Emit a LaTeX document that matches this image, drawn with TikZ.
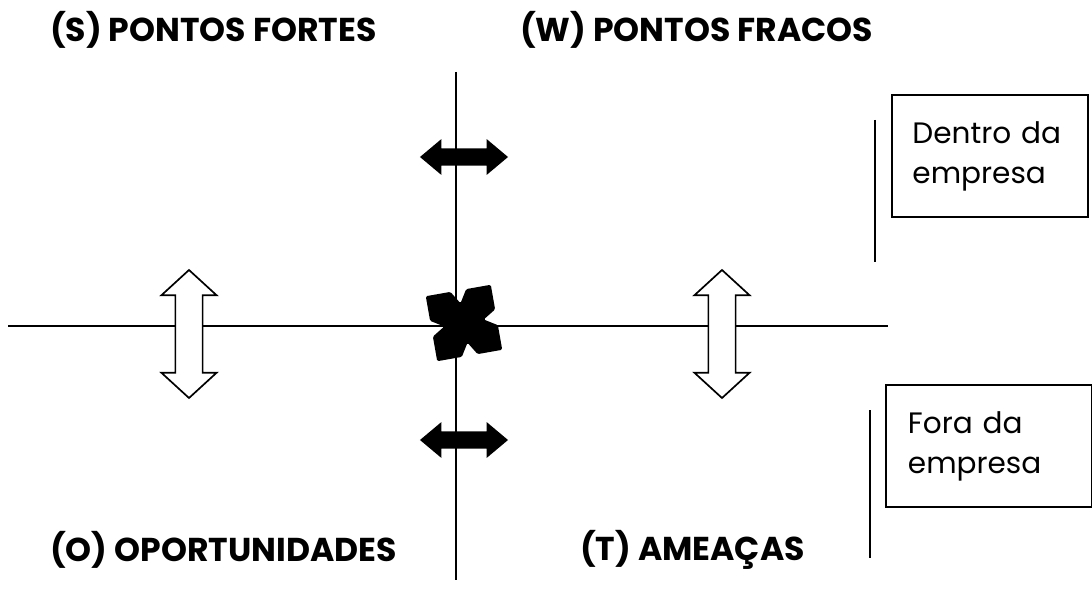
\documentclass[tikz,border=0pt]{standalone}
\usepackage{fontspec}
\setmainfont{Poppins}
\usetikzlibrary{shapes.arrows}

\begin{document}
\begin{tikzpicture}[x=0.025cm, y=-0.025cm]
\tikzset{ inner sep=0pt, outer sep=0pt,
  axis/.style={line width=1.1pt},
  title/.style={anchor=west, font=\fontsize{23.5}{26}\selectfont\bfseries},
  box/.style={draw, line width=1.3pt, minimum height=3.05cm, align=left,
              font=\fontsize{21}{28.5}\selectfont},
  side/.style={line width=1.1pt},
  warr/.style={double arrow, draw, fill=white, line width=1.2pt, rotate=90,
               minimum height=3.2cm, inner ysep=0.32cm,
               double arrow head extend=0.35cm, double arrow tip angle=95},
  barr/.style={double arrow, fill=black,
               minimum height=2.2cm, inner ysep=0.21cm,
               double arrow head extend=0.23cm, double arrow tip angle=80},
}
\useasboundingbox (0,0) rectangle (1092,591);

%\draw [lightgray, dashed](0,0) grid [step=50] (1092,591);

\coordinate (N) at (456,72);
\coordinate (S) at (456,580);
\coordinate (W) at (8,326);
\coordinate (E) at (888,326);

\draw [axis] (N) -- (S);
\draw [axis] (W) -- (E);

\node [title] (SF) at (50,30)  {(S) PONTOS FORTES};
\node [title] (WF) at (520,30) {(W) PONTOS FRACOS};
\node [title] (OP) at (50,550) {(O) OPORTUNIDADES};
\node [title] (TA) at (580,550) {(T) AMEAÇAS};

\node [barr] (A1) at (464,157) {};
\node [barr] (A2) at (464,440) {};
\node [warr] (A3) at (189,334) {};
\node [warr] (A4) at (722,334) {};

\begin{scope}[shift={(464,323)}, rotate=10]
\fill [rounded corners=1pt]
  (-33,-33) -- (-8,-33) -- (0,-20) -- (8,-33) -- (33,-33) --
  (33,-8) -- (20,0) -- (33,8) -- (33,33) --
  (8,33) -- (0,20) -- (-8,33) -- (-33,33) --
  (-33,8) -- (-20,0) -- (-33,-8) -- cycle;
\end{scope}

\node [box, minimum width=4.9cm, text width=3.875cm] (IN) at (990,156) {Dentro da\\empresa};
\node [box, minimum width=5.15cm, text width=4.05cm] (OUT) at (989,446) {Fora da\\empresa};

\coordinate (I1) at (875,120);
\coordinate (I2) at (875,262);
\coordinate (O1) at (870,410);
\coordinate (O2) at (870,558);
\draw [side] (I1) -- (I2);
\draw [side] (O1) -- (O2);

\end{tikzpicture}
\end{document}
